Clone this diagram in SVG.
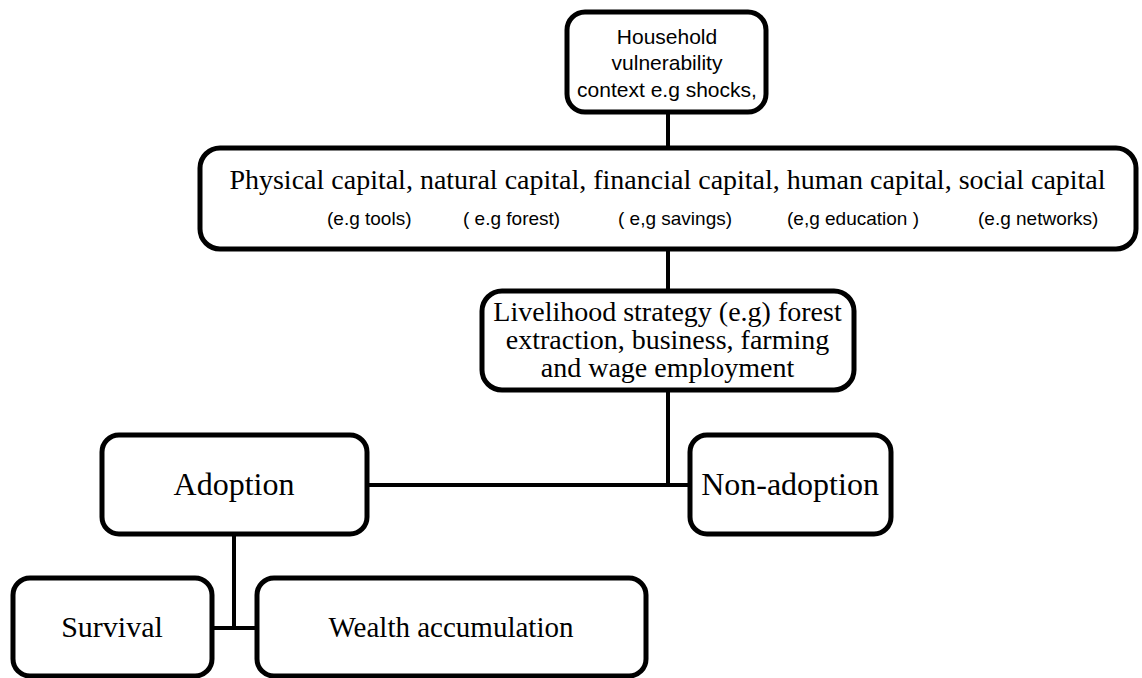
<svg xmlns="http://www.w3.org/2000/svg" width="1142" height="678" viewBox="0 0 1142 678">
<style>
.box{fill:#fff;stroke:#000;stroke-width:5}
.ln{fill:none;stroke:#000;stroke-width:4}
.serif{font-family:"Liberation Serif","Times New Roman",serif;fill:#000}
.sans{font-family:"Liberation Sans",Arial,sans-serif;fill:#000}
</style>
<rect width="1142" height="678" fill="#fff"/>
<g id="connectors">
<line class="ln" x1="668" y1="112" x2="668" y2="148"/>
<line class="ln" x1="668" y1="250" x2="668" y2="290"/>
<line class="ln" x1="668" y1="391" x2="668" y2="485"/>
<line class="ln" x1="368" y1="485" x2="688" y2="485"/>
<line class="ln" x1="234" y1="535" x2="234" y2="628"/>
<line class="ln" x1="213" y1="628" x2="255" y2="628"/>
</g>
<g id="vulnerability">
<rect class="box" x="567" y="12" width="199" height="100" rx="18"/>
<text class="sans" font-size="21" text-anchor="middle"><tspan x="667" y="43.5">Household</tspan><tspan x="667" y="70">vulnerability</tspan><tspan x="667" y="96.5">context e.g shocks,</tspan></text>
</g>
<g id="capitals">
<rect class="box" x="200" y="148" width="936" height="101" rx="20"/>
<text class="serif" font-size="28" x="667.5" y="189" text-anchor="middle">Physical capital, natural capital, financial capital, human capital, social capital</text>
<g class="sans" font-size="19" style="white-space:pre">
<text x="327" y="225">(e.g tools)</text>
<text x="463" y="225">(  e.g forest)</text>
<text x="618" y="225">( e,g savings)</text>
<text x="787" y="225">(e,g education )</text>
<text x="978" y="225">(e.g  networks)</text>
</g>
</g>
<g id="livelihood">
<rect class="box" x="482" y="291" width="372" height="99" rx="20"/>
<text class="serif" font-size="28" text-anchor="middle"><tspan x="667.5" y="321">Livelihood strategy (e.g) forest</tspan><tspan x="667.5" y="349">extraction, business, farming</tspan><tspan x="667.5" y="377">and wage employment</tspan></text>
</g>
<g id="adoption">
<rect class="box" x="102" y="435" width="265" height="99" rx="17"/>
<text class="serif" font-size="32" x="234" y="495" text-anchor="middle">Adoption</text>
</g>
<g id="nonadoption">
<rect class="box" x="690" y="435" width="201" height="99" rx="17"/>
<text class="serif" font-size="32" x="790" y="495" text-anchor="middle">Non-adoption</text>
</g>
<g id="survival">
<rect class="box" x="13" y="578" width="199" height="98" rx="17"/>
<text class="serif" font-size="30" x="112" y="637" text-anchor="middle">Survival</text>
</g>
<g id="wealth">
<rect class="box" x="257" y="578" width="389" height="98" rx="17"/>
<text class="serif" font-size="29" x="451" y="637" text-anchor="middle">Wealth accumulation</text>
</g>
</svg>
